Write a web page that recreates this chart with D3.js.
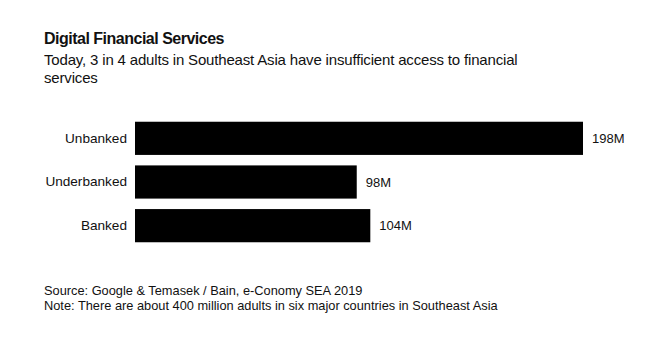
<!DOCTYPE html>
<html>
<head>
<meta charset="utf-8">
<script src="https://cdn.jsdelivr.net/npm/d3@7"></script>
<style>
  html, body { margin: 0; padding: 0; background: #fff; }
  svg text { font-family: "Liberation Sans", Arial, sans-serif; fill: #111; }
</style>
</head>
<body>
<svg id="chart" width="660" height="344"></svg>
<script>
const categories = ["Unbanked", "Underbanked", "Banked"];
const values = [198, 98, 104];
const valueLabels = ["198M", "98M", "104M"];

const svg = d3.select("#chart");
const W = 660, H = 344;
svg.append("rect").attr("width", W).attr("height", H).attr("fill", "#fff");

// Header
svg.append("text").attr("x", 44).attr("y", 44)
  .attr("font-size", 16).attr("font-weight", "bold")
  .attr("letter-spacing", -0.5)
  .text("Digital Financial Services");
svg.append("text").attr("x", 44).attr("y", 65).attr("font-size", 15)
  .attr("letter-spacing", -0.17)
  .text("Today, 3 in 4 adults in Southeast Asia have insufficient access to financial");
svg.append("text").attr("x", 44).attr("y", 83).attr("font-size", 15)
  .attr("letter-spacing", -0.17)
  .text("services");

// Bars
const x = d3.scaleLinear().domain([0, 198]).range([135, 583]);
const y = d3.scaleBand().domain(categories).range([116.5, 247.5])
  .paddingInner(0.24).paddingOuter(0.12);

svg.append("g").selectAll("rect").data(categories).join("rect")
  .attr("x", x(0))
  .attr("y", d => y(d))
  .attr("width", (d, i) => x(values[i]) - x(0))
  .attr("height", y.bandwidth())
  .attr("fill", "#000");

const yAxis = d3.axisLeft(y).tickSize(0).tickPadding(8);
const gy = svg.append("g").attr("transform", `translate(${x(0)},0)`).call(yAxis);
gy.select(".domain").remove();
gy.selectAll("text").attr("font-size", 13.6).style("font-family", "'Liberation Sans', Arial, sans-serif").attr("fill", "#111");

svg.append("g").selectAll("text").data(categories).join("text")
  .attr("x", (d, i) => x(values[i]) + 9)
  .attr("y", d => y(d) + y.bandwidth() / 2)
  .attr("dy", "0.35em")
  .attr("font-size", 13)
  .text((d, i) => valueLabels[i]);

// Footer
svg.append("text").attr("x", 44).attr("y", 295).attr("font-size", 12.8)
  .text("Source: Google & Temasek / Bain, e-Conomy SEA 2019");
svg.append("text").attr("x", 44).attr("y", 310).attr("font-size", 12.8)
  .text("Note: There are about 400 million adults in six major countries in Southeast Asia");
</script>
</body>
</html>
